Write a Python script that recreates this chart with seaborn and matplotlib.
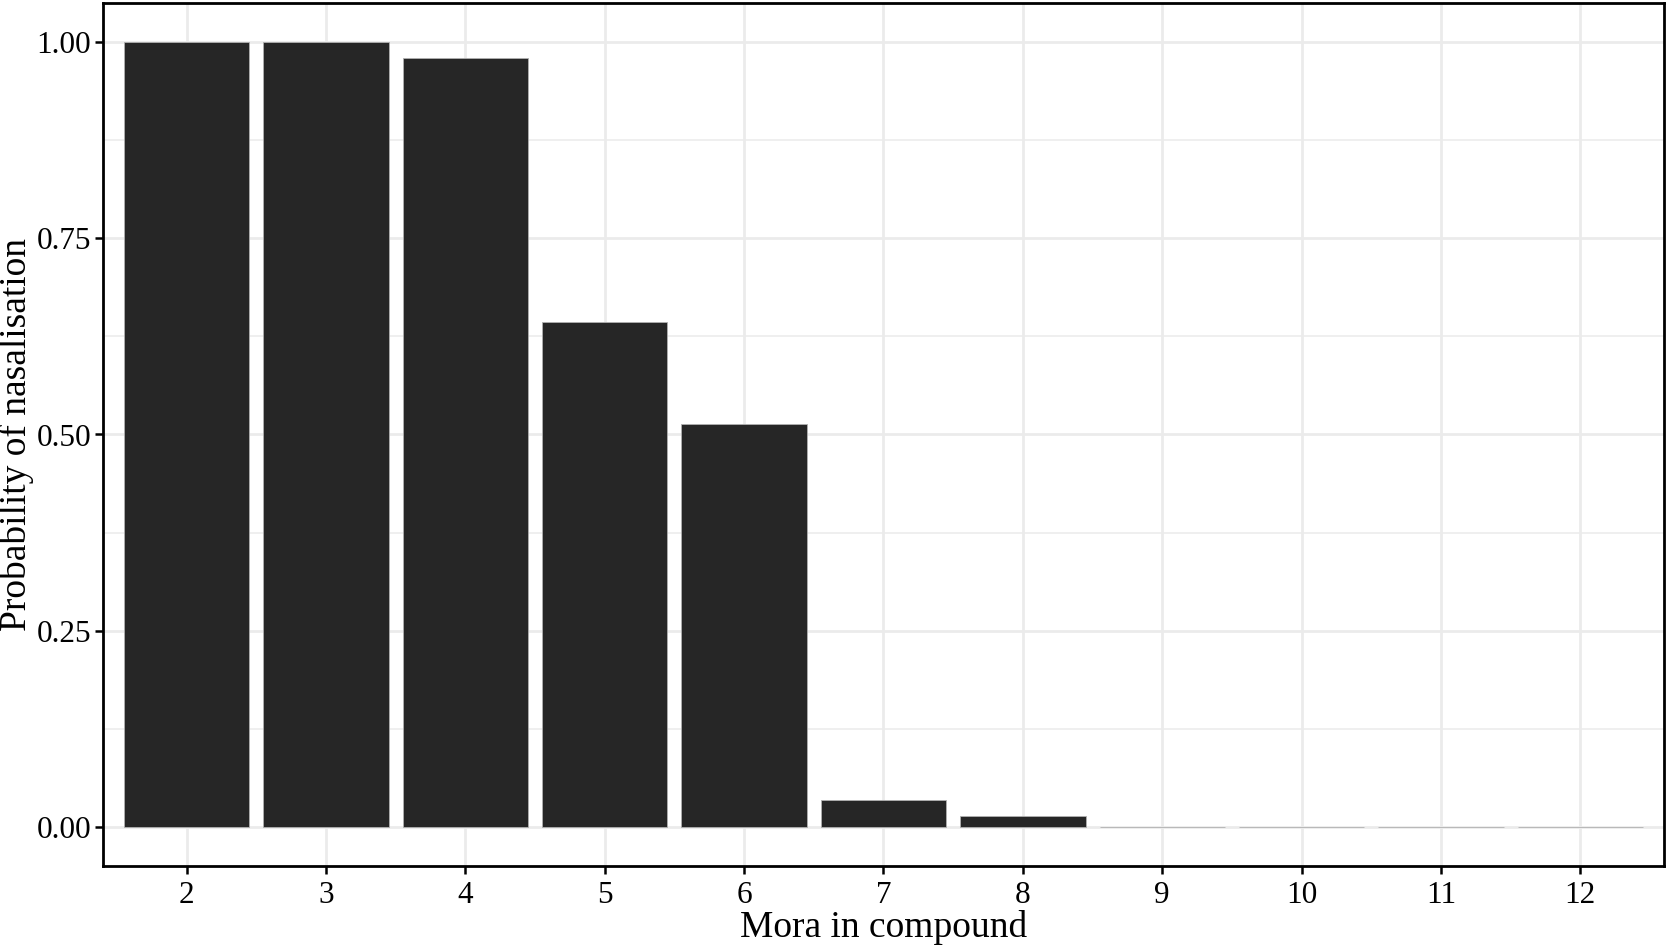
import numpy as np
import pandas as pd
import matplotlib
matplotlib.use("Agg")
import matplotlib.pyplot as plt
import matplotlib.ticker as mticker
import seaborn as sns

# values
mora = ["2", "3", "4", "5", "6", "7", "8", "9", "10", "11", "12"]
prob_nasal = [1.0, 1.0, 0.980, 0.644, 0.514, 0.034, 0.014, 0.0, 0.0, 0.0, 0.0]
y_ticks = [0.0, 0.25, 0.5, 0.75, 1.0]
y_tick_labels = ["0.00", "0.25", "0.50", "0.75", "1.00"]

TICK_SIZE = 22.5
LABEL_SIZE = 27
GRID_COLOR = "#ebebeb"

sns.set_theme(style="white")
plt.rcParams["font.family"] = ["Liberation Serif", "DejaVu Serif"]

df = pd.DataFrame({"mora": mora, "prob": prob_nasal})

fig = plt.figure(figsize=(16.68, 9.46), dpi=100)
ax = fig.add_axes([103 / 1668, 80 / 946, (1664 - 103) / 1668, (866 - 3) / 946])

sns.barplot(data=df, x="mora", y="prob", order=mora, color="#262626",
            width=0.9, edgecolor="#b0b0b0", linewidth=0.6, saturation=1,
            ax=ax, zorder=3)

ax.set_xlim(-0.6, len(mora) - 0.4)
ax.set_ylim(-0.05, 1.05)

ax.yaxis.set_major_locator(mticker.FixedLocator(y_ticks))
ax.set_yticklabels(y_tick_labels)
ax.yaxis.set_minor_locator(mticker.FixedLocator([0.125, 0.375, 0.625, 0.875]))

ax.grid(True, which="major", color=GRID_COLOR, linewidth=2.0, zorder=0)
ax.grid(True, which="minor", axis="y", color=GRID_COLOR, linewidth=1.1, zorder=0)
ax.set_axisbelow(True)

for s in ax.spines.values():
    s.set_visible(True)
    s.set_color("black")
    s.set_linewidth(2.0)

ax.tick_params(axis="both", which="major", direction="out", length=5.5,
               width=1.8, color="black", labelsize=TICK_SIZE, labelcolor="black",
               bottom=True, left=True, pad=3)
ax.tick_params(axis="x", which="major", pad=5)
ax.tick_params(axis="y", which="minor", length=0)

ax.set_xlabel("Mora in compound", fontsize=LABEL_SIZE, color="black", labelpad=0)
ax.set_ylabel("Probability of nasalisation", fontsize=LABEL_SIZE, color="black", labelpad=2)

fig.savefig("out.png", dpi=100)
